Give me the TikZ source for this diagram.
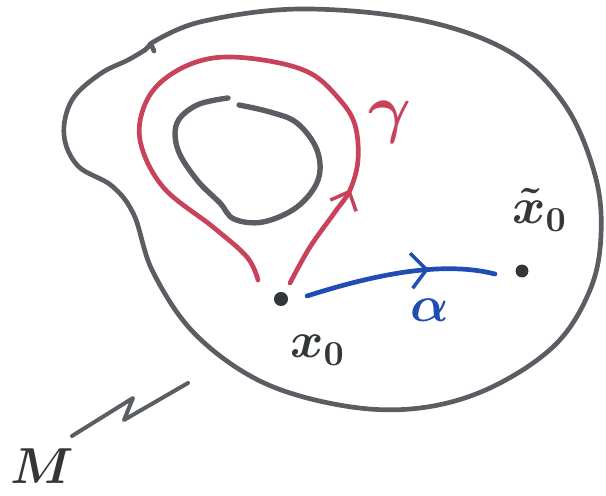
\documentclass[tikz,border=0pt]{standalone}
\usetikzlibrary{arrows.meta,decorations.markings}
\definecolor{pen}{HTML}{5A5E62}
\definecolor{ink}{HTML}{34373A}
\definecolor{redpen}{HTML}{C9425C}
\definecolor{bluepen}{HTML}{1F4DB3}
\tikzset{
  stroke/.style={line width=4pt, line cap=round, line join=round},
  graystroke/.style={stroke, draw=pen},
  redstroke/.style={stroke, draw=redpen},
  bluestroke/.style={stroke, draw=bluepen},
  ptdot/.style={circle, fill=ink, inner sep=0pt, minimum size=12pt},
  lbl/.style={inner sep=1pt, font=\Large\boldmath, scale=3},
  arrowat/.style 2 args={postaction={decorate}, decoration={markings,
    mark=at position #1 with {\arrow[line width=3pt]{#2}}}}
}
\begin{document}
\begin{tikzpicture}[x=0.03cm,y=-0.03cm]
\useasboundingbox (0,0) rectangle (606,495);
% manifold outline
\draw[graystroke] plot[smooth, tension=0.6] coordinates {
 (150,44) (200,22) (300,9) (420,20) (510,52) (565,105) (595,175) (601,235)
 (590,290) (555,345) (490,388) (420,408) (345,406) (262,382) (195,334)
 (153,272) (134,215) (112,186) (78,166) (64,135) (72,100) (100,74) (128,60) (145,50)};
\draw[graystroke] (145,50) -- (151,44) -- (154,51);
% hole
\draw[graystroke, line width=4.6pt] plot[smooth, tension=0.6] coordinates {
 (228,98) (197,105) (177,123) (178,150) (197,180) (220,203) (234,219)
 (263,222) (297,207) (318,180) (317,150) (297,123) (270,112) (239,105)};
% points
\node[ptdot] (x0) at (281,299) {};
\node[ptdot, minimum size=11pt] (xt) at (522,271) {};
\node[lbl, text=ink] (lx0) at (318,350) {$x_{0}$};
\node[lbl, text=ink] (lxt) at (540,210) {$\tilde{x}_{0}$};
% loop gamma (based at x0)
\coordinate (gs) at (290,283);
\coordinate (ge) at (258,280);
\draw[redstroke, arrowat={3.35cm}{Straight Barb[length=13pt,width=24pt]}]
  plot[smooth, tension=0.6] coordinates {
  (gs) (310,247) (335,212) (350,190) (358,160) (355,125) (340,100) (310,73)
  (263,60) (213,58) (173,73) (147,100) (140,140) (163,187) (213,227) (247,257) (ge)};
\node[lbl, text=redpen, scale=1.3] (lg) at (390,122) {$\gamma$};
% path alpha
\coordinate (as) at (307,296);
\coordinate (ae) at (495,274);
\draw[bluestroke, arrowat={3.75cm}{Straight Barb[length=13pt,width=30pt]}]
  (as) .. controls (370,276) and (440,260) .. (ae);
\node[lbl, text=bluepen] (la) at (430,310) {$\alpha$};
% M label with leader
\node[lbl, text=ink] (lM) at (42,466) {$M$};
\coordinate (m1) at (72,436);
\coordinate (m2) at (133,398);
\coordinate (m3) at (124,420);
\coordinate (m4) at (188,383);
\draw[graystroke, line width=3.4pt] (m1) -- (m2) -- (m3) -- (m4);
\end{tikzpicture}
\end{document}
